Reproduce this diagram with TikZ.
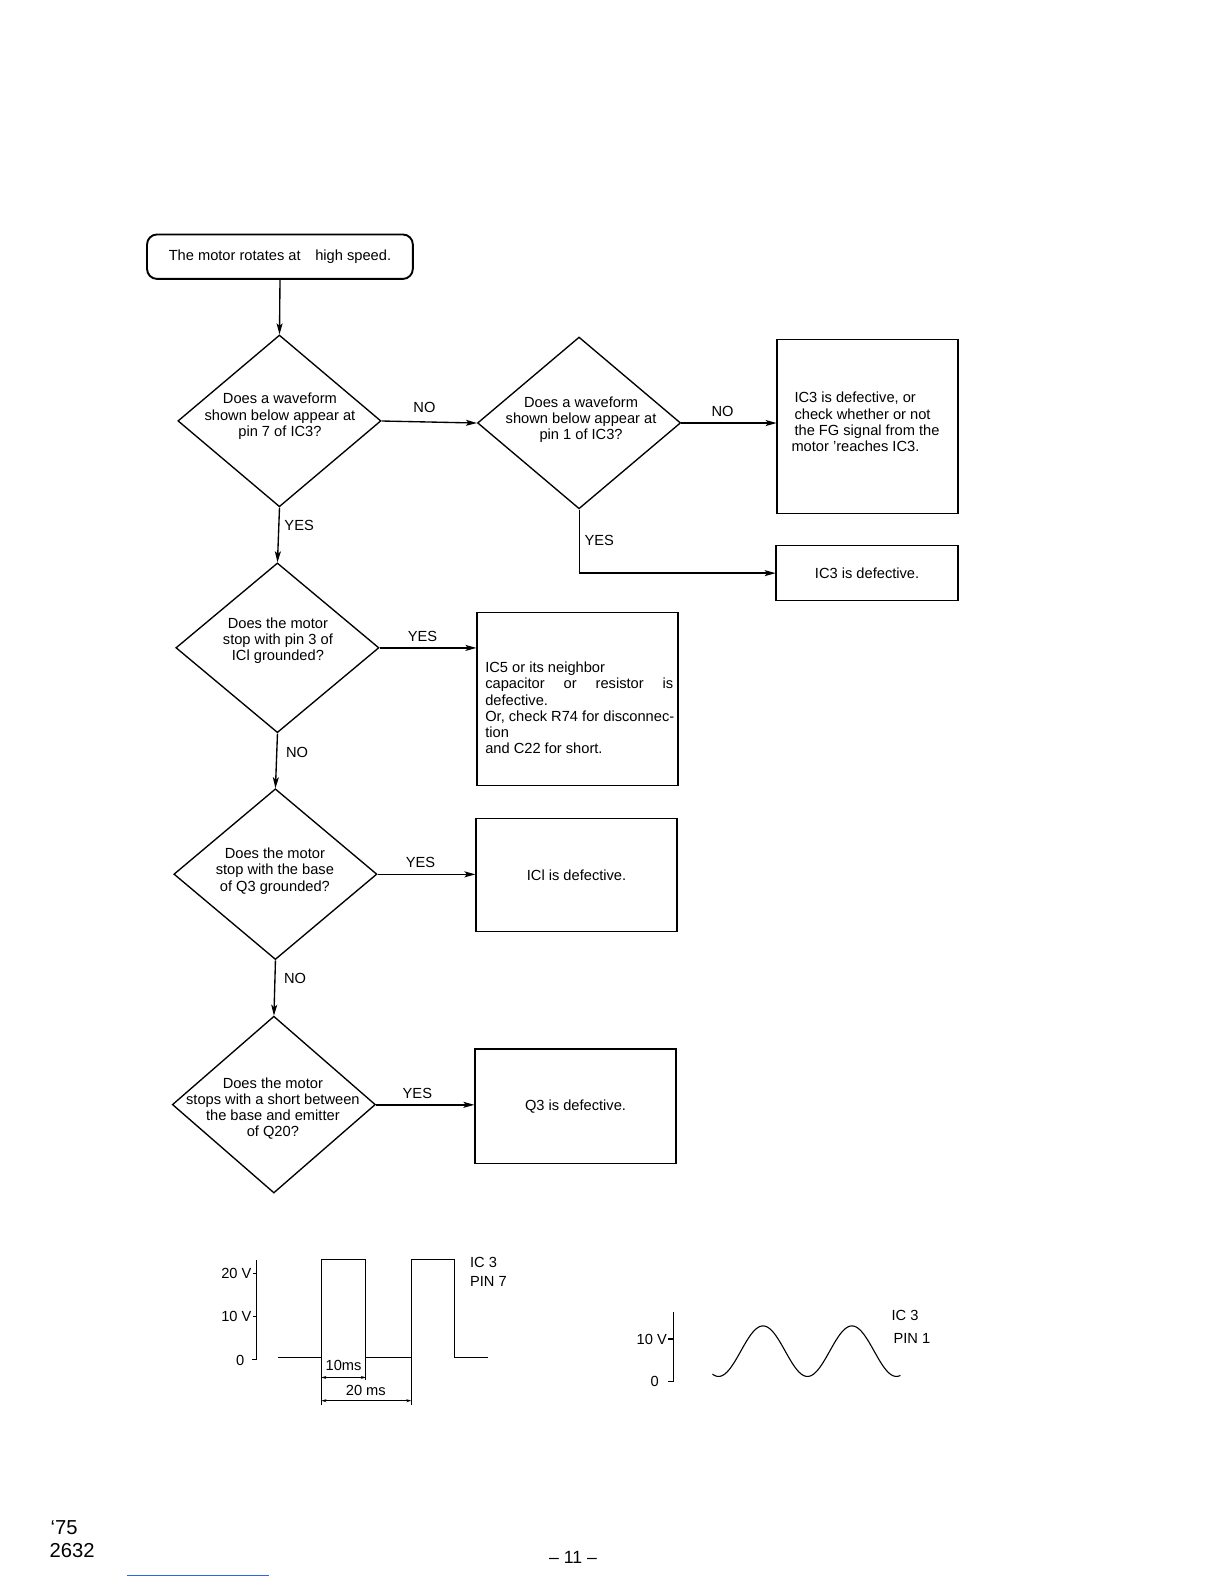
\documentclass[tikz,border=0pt]{standalone}
\usepackage{fontspec}
\setmainfont{Liberation Sans}
\usetikzlibrary{arrows.meta,shapes.geometric}
\definecolor{scanblue}{RGB}{50,100,235}
\begin{document}
\begin{tikzpicture}[x=1pt,y=-1pt,scale=1.0106,transform shape,
  every node/.style={font=\fontsize{14.5}{16}\selectfont, inner sep=0pt},
  arr/.style={line width=1.35pt,-{Stealth[length=11pt,width=6pt,inset=2.5pt]}},
  dim/.style={line width=0.9pt,{Stealth[length=5pt,width=3pt]}-{Stealth[length=5pt,width=3pt]}},
  dia/.style={draw,diamond,line width=1.35pt,inner sep=0pt,minimum width=#1},
  dia/.default=201pt,
  bx/.style={draw,rectangle,line width=1.4pt,inner sep=0pt},
  txt/.style={align=center},
  lab/.style={font=\fontsize{14.5}{16}\selectfont}
]
\useasboundingbox[fill=white] (0,0) rectangle (1211.2,1567.4);

% start
\node[draw,rounded corners=10pt,line width=1.9pt,minimum width=263pt,minimum height=44pt] (start) at (277,254) {The motor rotates at\quad high speed.};

% diamonds
\node[dia,minimum height=170pt] (d1) at (276.5,416.5) {};
\node[txt] (t1) at (277,412) {Does a waveform\\shown below appear at\\pin 7 of IC3?};
\node[dia,minimum height=170pt] (d2) at (573,418.5) {};
\node[txt] (t2) at (575,415) {Does a waveform\\shown below appear at\\pin 1 of IC3?};
\node[dia,minimum height=168pt] (d3) at (274.5,641) {};
\node[txt] (t3) at (275,634) {Does the motor\\stop with pin 3 of\\ICl grounded?};
\node[dia,minimum height=169pt] (d4) at (272.5,865) {};
\node[txt] (t4) at (272,862) {Does the motor\\stop with the base\\of Q3 grounded?};
\node[dia,minimum height=175pt] (d5) at (271,1093) {};
\node[txt] (t5) at (270,1097) {Does the motor\\stops with a short between\\the base and emitter\\of Q20?};

% boxes
\node[bx,minimum width=179pt,minimum height=172pt] (bA) at (858.5,422) {};
\node[anchor=north west,align=left] (tA) at (783,388) {\hspace*{3pt}IC3 is defective, or\\\hspace*{3pt}check whether or not\\\hspace*{3pt}the FG signal from the\\motor 'reaches IC3.};
\node[bx,minimum width=180pt,minimum height=54pt] (bB) at (858,567) {IC3 is defective.};
\node[bx,minimum width=199pt,minimum height=171pt] (bC) at (571.5,691.5) {};
\node[anchor=north west,align=left] (tC) at (480,655) {IC5 or its neighbor\\\makebox[186pt][s]{capacitor\hfill or\hfill resistor\hfill is}\\defective.\\Or, check R74 for disconnec-\\tion\\and C22 for short.};
\node[bx,minimum width=199pt,minimum height=112pt] (bD) at (570.5,866) {ICl is defective.};
\node[bx,minimum width=199pt,minimum height=113pt] (bE) at (569.5,1094.5) {Q3 is defective.};

% connectors
\draw[arr] (start.south) -- (d1.north);
\draw[arr] (d1.east) -- (d2.west);
\draw[arr] (d2.east) -- (d2.east -| bA.west);
\draw[arr] (d2.south) |- (bB.west);
\draw[arr] (d1.south) -- (d3.north);
\draw[arr] (d3.east) -- (d3.east -| bC.west);
\draw[arr] (d3.south) -- (d4.north);
\draw[arr] (d4.east) -- (d4.east -| bD.west);
\draw[arr] (d4.south) -- (d5.north);
\draw[arr] (d5.east) -- (d5.east -| bE.west);

% labels
\node[lab] (l1) at (420,403) {NO};
\node[lab] (l2) at (715,407) {NO};
\node[lab] (l3) at (296,520) {YES};
\node[lab] (l4) at (593,535) {YES};
\node[lab] (l5) at (418,630) {YES};
\node[lab] (l6) at (294,745) {NO};
\node[lab] (l7) at (416,853) {YES};
\node[lab] (l8) at (292,968) {NO};
\node[lab] (l9) at (413,1082) {YES};

% waveform 1
\draw[line width=1.1pt] (254,1247) -- (254,1345) -- (249,1345);
\draw[line width=1.1pt] (250,1260) -- (254,1260);
\draw[line width=1.1pt] (250,1303) -- (254,1303);
\node[anchor=east] (v20) at (249,1260) {20 V};
\node[anchor=east] (v10) at (249,1303) {10 V};
\node[anchor=east] (v0) at (242,1346) {0};
\draw[line width=1.1pt] (275,1343) -- (318,1343) -- (318,1246) -- (362,1246) -- (362,1343) -- (407,1343) -- (407,1246) -- (450,1246) -- (450,1343) -- (483,1343);
\draw[line width=0.9pt] (318,1343) -- (318,1390);
\draw[line width=0.9pt] (362,1343) -- (362,1366);
\draw[line width=0.9pt] (407,1343) -- (407,1390);
\draw[dim] (318,1363) -- (362,1363);
\draw[dim] (318,1386) -- (407,1386);
\node (ms10) at (340,1351) {10ms};
\node (ms20) at (362,1376) {20 ms};
\node[anchor=west] (ic3a) at (465,1249) {IC 3};
\node[anchor=west] (pin7) at (465,1268) {PIN 7};

% waveform 2
\draw[line width=1.1pt] (666,1298) -- (666,1367) -- (661,1367);
\draw[line width=1.1pt] (661,1325) -- (666,1325);
\node[anchor=east] (w10) at (660,1325) {10 V};
\node[anchor=east] (w0) at (652,1367) {0};
\draw[line width=1.1pt] plot[domain=705:891,samples=120,smooth] (\x,{1337-25*cos((\x-755)*4.0909)});
\node[anchor=west] (ic3b) at (882,1302) {IC 3};
\node[anchor=west] (pin1) at (884,1324) {PIN 1};

% page footer
\node[anchor=west,font=\fontsize{20}{22}\selectfont] (f1) at (50,1512) {\textquoteleft 75};
\node[anchor=west,font=\fontsize{20}{22}\selectfont] (f2) at (49,1534) {2632};
\node[font=\fontsize{17.5}{19}\selectfont] (pg) at (567,1541) {– 11 –};
\draw[scanblue,line width=1.6pt] (126,1559) -- (266,1559);
\end{tikzpicture}
\end{document}
